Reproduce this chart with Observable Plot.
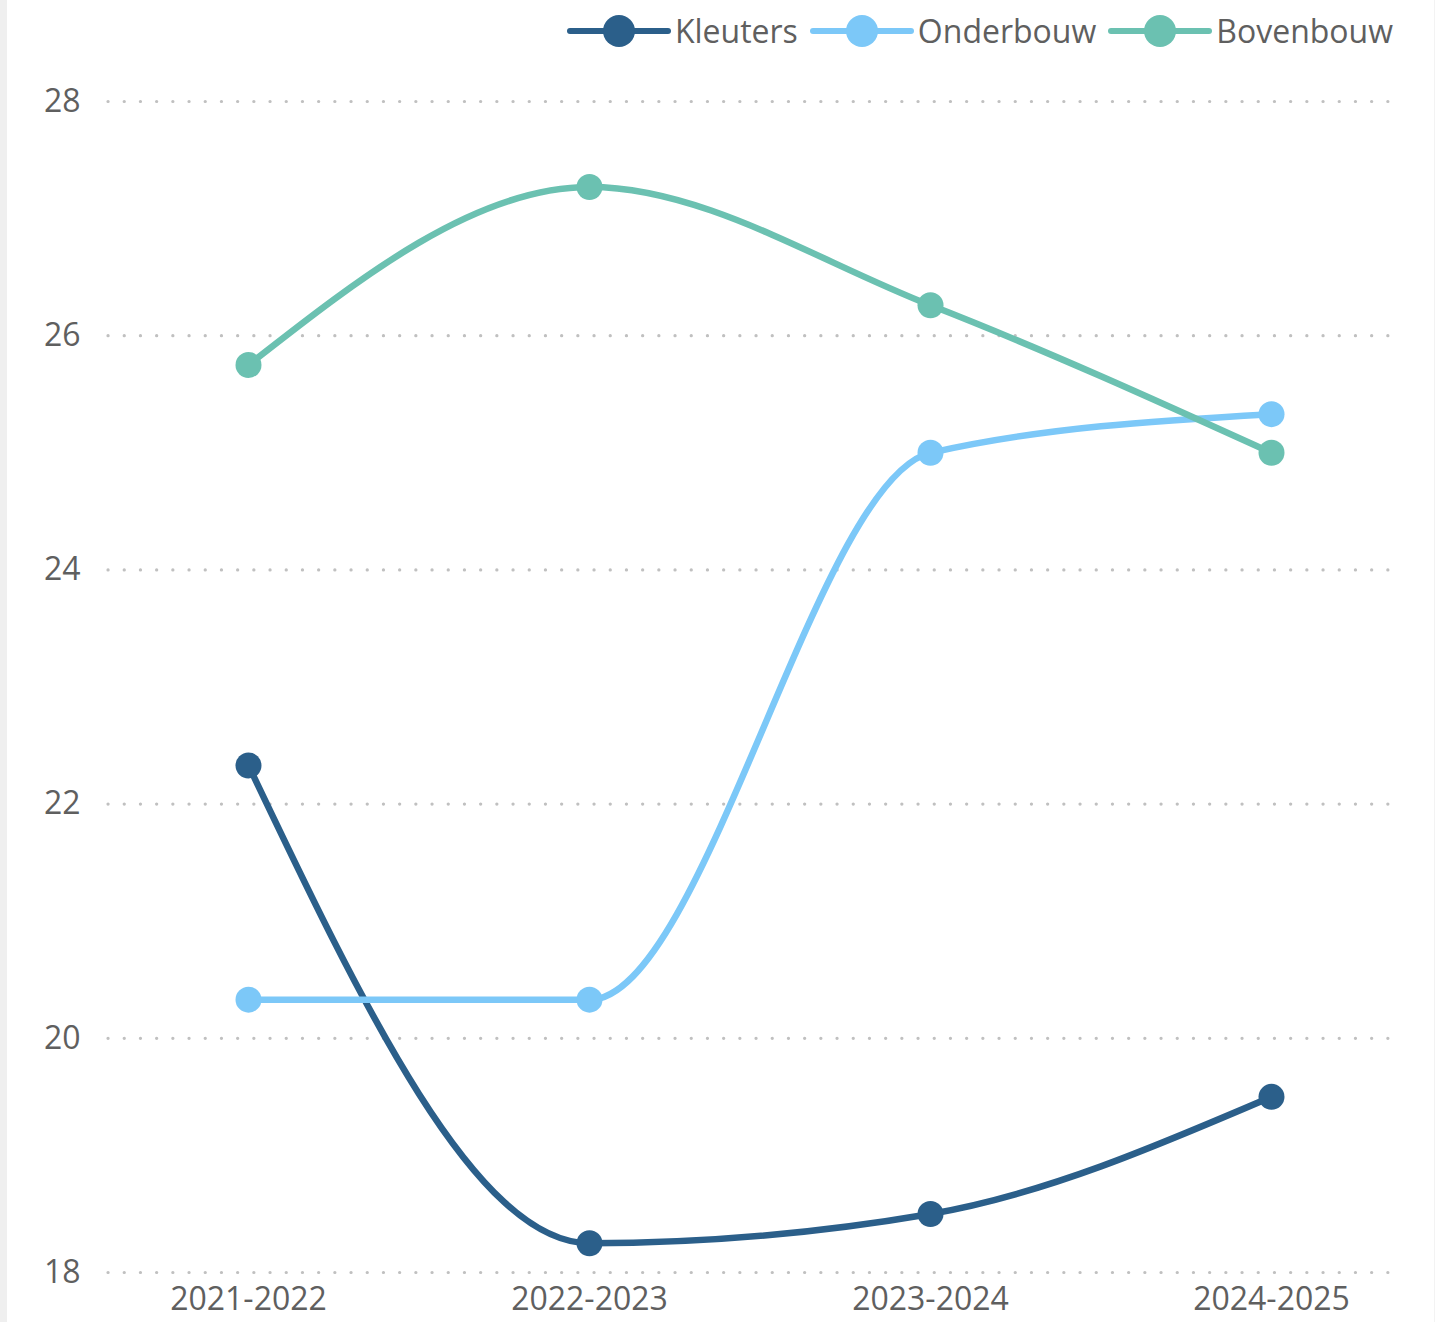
<!DOCTYPE html>
<html>
<head>
<meta charset="utf-8">
<script src="https://cdn.jsdelivr.net/npm/d3@7"></script>
<script src="https://cdn.jsdelivr.net/npm/@observablehq/plot@0.6"></script>
<style>
  html, body { margin: 0; padding: 0; background: #fff; }
  body { width: 1439px; height: 1322px; position: relative; overflow: hidden; font-family: "Open Sans", sans-serif; }
  #leftbar { position: absolute; left: 0; top: 0; width: 7px; height: 1322px; background: #efefef; }
  #rightbar { position: absolute; left: 1434px; top: 0; width: 1px; height: 1322px; background: #f3f3f3; }
  #legend { position: absolute; top: 0; right: 46px; height: 62px; display: flex; align-items: center; gap: 12px; }
  .item { display: flex; align-items: center; }
  .item span { font-size: 32px; color: #5f5f5f; margin-left: 4px; line-height: 1; }
  #chart { position: absolute; left: 0; top: 62px; }
</style>
</head>
<body>
<div id="leftbar"></div>
<div id="rightbar"></div>
<div id="legend"></div>
<div id="chart"></div>
<script>
const years = ["2021-2022", "2022-2023", "2023-2024", "2024-2025"];
const series = ["Kleuters", "Onderbouw", "Bovenbouw"];
const kleuters = [22.33, 18.25, 18.5, 19.5];
const onderbouw = [20.33, 20.33, 25.0, 25.33];
const bovenbouw = [25.75, 27.27, 26.26, 25.0];
const colors = ["#2B5F8A", "#7CC8F8", "#6BC1B1"];
const yTicks = [18, 20, 22, 24, 26, 28];

const valuesBySeries = [kleuters, onderbouw, bovenbouw];
const data = [];
series.forEach((s, i) => years.forEach((y, j) => data.push({series: s, year: y, value: valuesBySeries[i][j]})));

// Legend
const legend = document.getElementById("legend");
series.forEach((s, i) => {
  const item = document.createElement("div");
  item.className = "item";
  item.innerHTML = `<svg width="104" height="36"><line x1="3" x2="101" y1="18" y2="18" stroke="${colors[i]}" stroke-width="6" stroke-linecap="round"/><circle cx="52" cy="18" r="16" fill="${colors[i]}"/></svg><span>${s}</span>`;
  legend.appendChild(item);
});

const chart = Plot.plot({
  width: 1439,
  height: 1260,
  marginTop: 39,
  marginBottom: 50,
  marginLeft: 108,
  marginRight: 44,
  style: {fontFamily: "Open Sans, sans-serif", fontSize: "32px", color: "#5f5f5f", background: "transparent"},
  x: {type: "point", domain: years, padding: 0.386, align: 0.53, label: null},
  y: {domain: [18, 28], ticks: yTicks, label: null},
  color: {domain: series, range: colors},
  marks: [
    Plot.ruleY(yTicks, {stroke: "#c0c0c0", strokeWidth: 3.2, strokeDasharray: "0.1,16.1", strokeLinecap: "round"}),
    Plot.axisY({ticks: yTicks, tickSize: 0, tickPadding: 28, tickFormat: d => String(d), fill: "#5f5f5f", fontSize: 32}),
    Plot.axisX({tickSize: 0, tickPadding: 15, fill: "#5f5f5f", fontSize: 32}),
    Plot.line(data, {x: "year", y: "value", z: "series", stroke: "series", strokeWidth: 6.5, curve: "monotone-x"}),
    Plot.dot(data, {x: "year", y: "value", fill: "series", r: 13})
  ]
});
document.getElementById("chart").appendChild(chart);
</script>
</body>
</html>
